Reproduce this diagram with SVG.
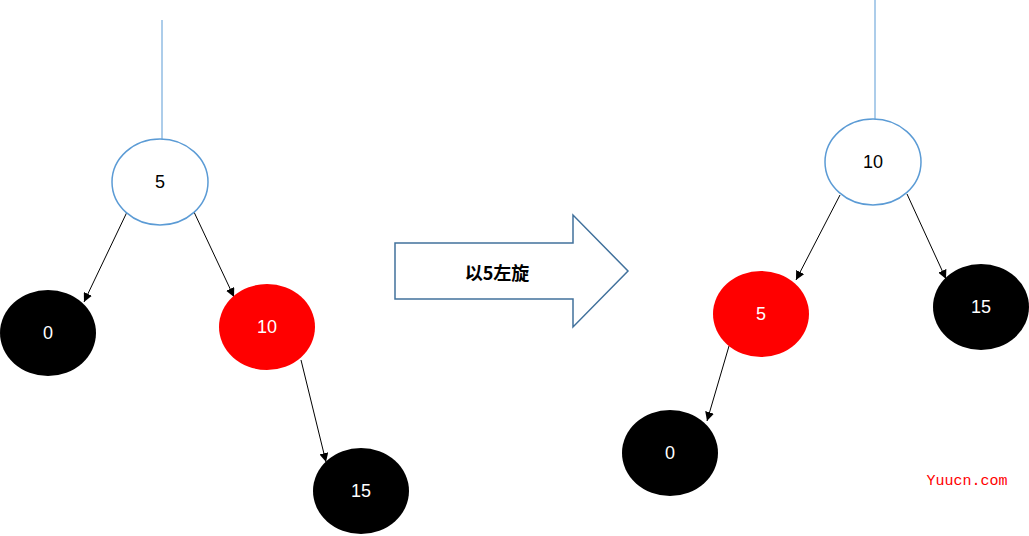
<svg xmlns="http://www.w3.org/2000/svg" width="1029" height="536" viewBox="0 0 1029 536">
<defs><marker id="ah" viewBox="0 0 10 10" refX="10" refY="5" markerWidth="9" markerHeight="9" orient="auto" markerUnits="userSpaceOnUse"><path d="M0,0L10,5L0,10z" fill="#000"/></marker></defs>
<style>
.w{fill:#fff;stroke:#5B9BD5;stroke-width:1.5}
.b{fill:#000}
.r{fill:#f00}
text{font-family:"Liberation Sans",Arial,sans-serif;font-size:18px;text-anchor:middle;dominant-baseline:central}
.e{stroke:#000;stroke-width:1;marker-end:url(#ah)}
.s{stroke:#5B9BD5;stroke-width:1}
</style>
<rect width="1029" height="536" fill="#fff"/>
<g id="connectors">
<line class="s" x1="162" y1="20" x2="162" y2="139"/>
<line class="e" x1="127" y1="212" x2="84" y2="302"/>
<line class="e" x1="194" y1="212" x2="234" y2="297"/>
<line class="e" x1="301" y1="360" x2="326" y2="462"/>
<line class="s" x1="875" y1="0" x2="875" y2="119"/>
<line class="e" x1="840" y1="195" x2="796" y2="280"/>
<line class="e" x1="907" y1="194" x2="946" y2="279"/>
<line class="e" x1="729" y1="346" x2="707" y2="421"/>
</g>
<g id="L5"><ellipse class="w" cx="160" cy="182" rx="48" ry="43"/><text x="160" y="182">5</text></g>
<g id="L0"><ellipse class="b" cx="48" cy="333" rx="48" ry="43"/><text x="48" y="333" fill="#fff">0</text></g>
<g id="L10"><ellipse class="r" cx="267" cy="327" rx="48" ry="43"/><text x="267" y="327" fill="#fff">10</text></g>
<g id="L15"><ellipse class="b" cx="361" cy="491" rx="48" ry="43"/><text x="361" y="491" fill="#fff">15</text></g>
<g id="arrow"><path d="M395,243H573V215L628,271L573,327V299H395Z" fill="#fff" stroke="#41719C" stroke-width="1.5"/><text x="497" y="272" font-weight="bold" style="font-family:'Noto Sans CJK SC',sans-serif">以5左旋</text></g>
<g id="R10"><ellipse class="w" cx="873" cy="162" rx="48" ry="43"/><text x="873" y="162">10</text></g>
<g id="R5"><ellipse class="r" cx="761" cy="314" rx="48" ry="43"/><text x="761" y="314" fill="#fff">5</text></g>
<g id="R15"><ellipse class="b" cx="981" cy="307" rx="48" ry="43"/><text x="981" y="307" fill="#fff">15</text></g>
<g id="R0"><ellipse class="b" cx="670" cy="453" rx="48" ry="43"/><text x="670" y="453" fill="#fff">0</text></g>
<text x="967" y="481" fill="#f00" style="font-family:'Liberation Mono',monospace;font-size:15px">Yuucn.com</text>
</svg>
